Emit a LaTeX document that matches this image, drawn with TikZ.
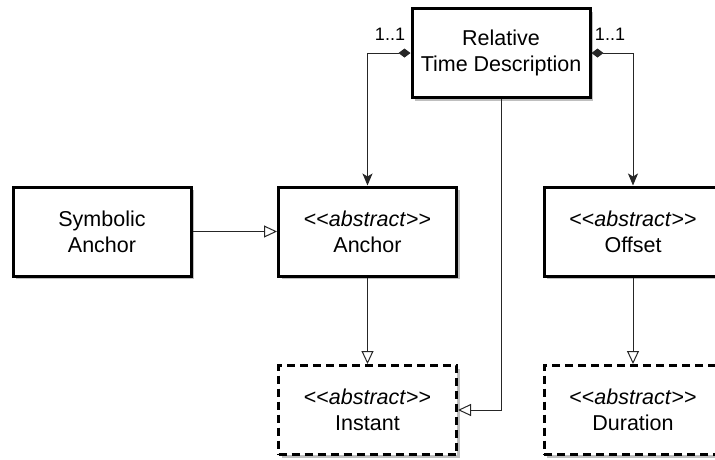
\documentclass[tikz,border=0pt]{standalone}
\usepackage{fontspec}
\setmainfont{Liberation Sans}[Ligatures=TeXOff]
\usetikzlibrary{arrows.meta,shadows}

\tikzset{
  cls/.style={draw, line width=3pt, fill=white,
    minimum width=178pt, minimum height=89pt, align=center,
    font=\fontsize{21.5}{26}\selectfont,
    drop shadow={shadow xshift=3pt, shadow yshift=-3pt, fill=black!25, opacity=1}},
  abstractcls/.style={cls, dash pattern=on 8pt off 5pt},
  link/.style={line width=1pt, draw=black!85},
  mult/.style={font=\fontsize{18}{20}\selectfont, inner sep=0pt},
  composition/.style={link, {Diamond[length=12pt,width=9pt]}-{Stealth[length=12pt,width=10pt,inset=3pt]}},
  generalization/.style={link, -{Triangle[open,length=13pt,width=12pt,fill=white]}},
}

\begin{document}
\begin{tikzpicture}[x=1pt,y=-1pt]
  \clip (0,0) rectangle (715,459);

  % classes
  \node[cls] (rtd) at (501,53) {Relative\\Time Description};
  \node[cls] (sym) at (102,231.5) {Symbolic\\Anchor};
  \node[cls] (anchor) at (367.5,231.5) {<<\textit{abstract}>>\\Anchor};
  \node[cls] (offset) at (633,231.5) {<<\textit{abstract}>>\\Offset};
  \node[abstractcls] (instant) at (367.5,410) {<<\textit{abstract}>>\\Instant};
  \node[abstractcls] (duration) at (633,410) {<<\textit{abstract}>>\\Duration};

  % composition associations with multiplicities
  \draw[composition] (rtd.west) -| (anchor.north);
  \draw[composition] (rtd.east) -| (offset.north);
  \node[mult] (m1) at (390,34) {1..1};
  \node[mult] (m2) at (610,34) {1..1};

  % generalizations
  \draw[generalization] (sym.east) -- (anchor.west);
  \draw[generalization] (anchor.south) -- (instant.north);
  \draw[generalization] (offset.south) -- (duration.north);
  \draw[generalization] (rtd.south) |- (instant.east);
\end{tikzpicture}
\end{document}
